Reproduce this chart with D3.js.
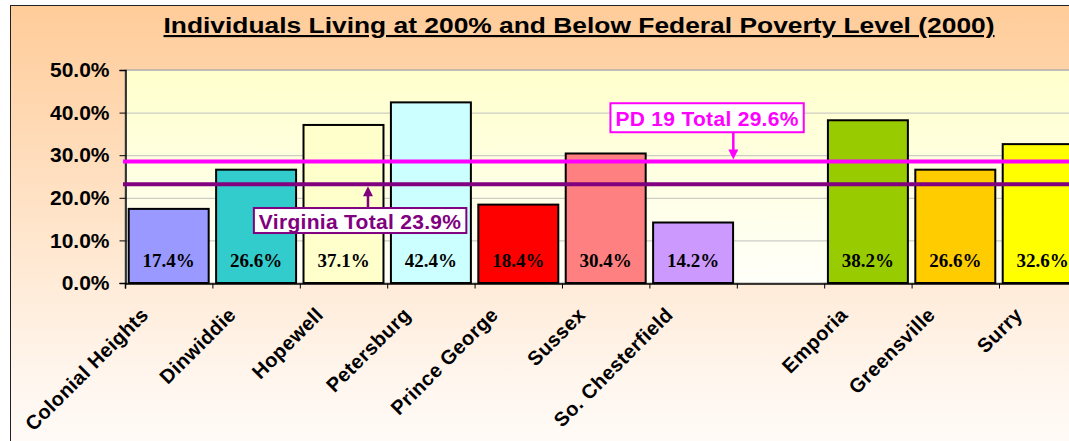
<!DOCTYPE html>
<html>
<head>
<meta charset="utf-8">
<script src="https://cdn.jsdelivr.net/npm/d3@7"></script>
<style>
  body { margin: 0; background: #fff; }
  svg { display: block; }
</style>
</head>
<body>
<script>
//data
var categories = ["Colonial Heights", "Dinwiddie", "Hopewell", "Petersburg", "Prince George",
                  "Sussex", "So. Chesterfield", "", "Emporia", "Greensville", "Surry"];
var values = [17.4, 26.6, 37.1, 42.4, 18.4, 30.4, 14.2, null, 38.2, 26.6, 32.6];
var barColors = ["#9999FF", "#33CCCC", "#FFFFCC", "#CCFFFF", "#FF0000",
                 "#FF8080", "#CC99FF", "none", "#99CC00", "#FFCC00", "#FFFF00"];
var yTicks = [0, 10, 20, 30, 40, 50];

// reference lines (position as drawn in the picture) and their callouts
var refNames = ["PD 19 Total 29.6%", "Virginia Total 23.9%"];
var refValues = [28.5, 23.2];
var refColors = ["#FF00FF", "#800080"];

//positioning/sizing
var svg_dx = 1069,
    svg_dy = 441,
    margin = {top: 70, left: 125},
    plot_bottom = 283,
    step = 87.4,
    plot_right = margin.left + step * categories.length;

var x = d3.scaleBand()
          .domain(d3.range(categories.length))
          .range([margin.left, plot_right])
          .paddingInner(0.085)
          .paddingOuter(0.0425);

var y = d3.scaleLinear().domain([0, 50]).range([plot_bottom, margin.top]);

// continuous index scale for placing callouts between categories
var xi = d3.scaleLinear().domain([0, categories.length]).range([margin.left, plot_right]);

var svg = d3.select("body").append("svg")
            .attr("width", svg_dx)
            .attr("height", svg_dy);

var defs = svg.append("defs");
var bgGrad = defs.append("linearGradient").attr("id", "bg").attr("x1", 0).attr("y1", 0).attr("x2", 0).attr("y2", 1);
bgGrad.append("stop").attr("offset", "0%").attr("stop-color", "#FFCC99");
bgGrad.append("stop").attr("offset", "75%").attr("stop-color", "#FFF6EE");
bgGrad.append("stop").attr("offset", "100%").attr("stop-color", "#FFFFFF");

var plotGrad = defs.append("linearGradient").attr("id", "plotbg").attr("x1", 0).attr("y1", 0).attr("x2", 0).attr("y2", 1);
plotGrad.append("stop").attr("offset", "0%").attr("stop-color", "#FFFFCC");
plotGrad.append("stop").attr("offset", "100%").attr("stop-color", "#FFFFFA");

// chart frame
svg.append("rect")
   .attr("x", 10.5).attr("y", 5.5)
   .attr("width", 1200).attr("height", 500)
   .attr("fill", "url(#bg)")
   .attr("stroke", "#222")
   .attr("stroke-width", 1);

// title (glyphs stretched like the original rendering)
svg.append("text")
   .attr("x", 579)
   .attr("y", 33)
   .attr("text-anchor", "middle")
   .attr("font-family", "Liberation Sans, Arial, sans-serif")
   .attr("font-weight", "bold")
   .attr("font-size", 21.5)
   .attr("textLength", 831)
   .attr("lengthAdjust", "spacingAndGlyphs")
   .attr("text-decoration", "underline")
   .attr("fill", "#000")
   .text("Individuals Living at 200% and Below Federal Poverty Level (2000)");

// plot area
svg.append("rect")
   .attr("x", margin.left).attr("y", margin.top)
   .attr("width", plot_right - margin.left)
   .attr("height", plot_bottom - margin.top)
   .attr("fill", "url(#plotbg)")
   .attr("stroke", "#999")
   .attr("stroke-width", 1);

// gridlines
svg.append("g")
   .selectAll("line")
   .data(yTicks.slice(1))
   .enter()
   .append("line")
   .attr("x1", margin.left).attr("x2", plot_right)
   .attr("y1", d => y(d) + 0.5).attr("y2", d => y(d) + 0.5)
   .attr("stroke", "#C0C0C0")
   .attr("stroke-width", 1);

// y axis
var axis_y = d3.axisLeft(y)
               .tickValues(yTicks)
               .tickSize(6)
               .tickPadding(10)
               .tickFormat(d => d.toFixed(1) + "%");

var gy = svg.append("g")
   .attr("id", "axis_y")
   .attr("transform", "translate(" + (margin.left + 0.5) + ",0)")
   .call(axis_y);
gy.select(".domain").attr("stroke", "#000").attr("stroke-width", 1.5);
gy.selectAll(".tick line").attr("stroke", "#000");
gy.selectAll(".tick text")
  .attr("font-family", "Liberation Sans, Arial, sans-serif")
  .attr("font-weight", "bold")
  .attr("font-size", 21)
  .attr("fill", "#000");

// bars
var barData = values.map((v, i) => ({i: i, v: v, c: barColors[i]})).filter(d => d.v != null);

svg.append("g")
   .selectAll("rect")
   .data(barData)
   .enter()
   .append("rect")
   .attr("x", d => x(d.i))
   .attr("y", d => y(d.v))
   .attr("width", x.bandwidth())
   .attr("height", d => y(0) - y(d.v))
   .attr("fill", d => d.c)
   .attr("stroke", "#000")
   .attr("stroke-width", 2);

// value labels inside bars
svg.append("g")
   .selectAll("text")
   .data(barData)
   .enter()
   .append("text")
   .attr("x", d => x(d.i) + x.bandwidth() / 2)
   .attr("y", y(0) - 16)
   .attr("text-anchor", "middle")
   .attr("font-family", "Liberation Serif, Times New Roman, serif")
   .attr("font-weight", "bold")
   .attr("font-size", 19)
   .attr("fill", "#000")
   .text(d => d.v.toFixed(1) + "%");

// x axis
var axis_x = d3.axisBottom(xi)
               .tickValues(d3.range(categories.length + 1))
               .tickSize(5)
               .tickFormat("");

var gx = svg.append("g")
   .attr("id", "axis_x")
   .attr("transform", "translate(0," + (plot_bottom + 0.5) + ")")
   .call(axis_x);
gx.select(".domain").attr("stroke", "#000").attr("stroke-width", 1.5);
gx.selectAll(".tick line").attr("stroke", "#000");

// rotated category labels
svg.append("g")
   .selectAll("text")
   .data(categories)
   .enter()
   .append("text")
   .attr("transform", (d, i) => "translate(" + (x(i) + x.bandwidth() / 2 - 19) + "," + 316 + ") rotate(-45)")
   .attr("text-anchor", "end")
   .attr("font-family", "Liberation Sans, Arial, sans-serif")
   .attr("font-weight", "bold")
   .attr("font-size", 20)
   .attr("letter-spacing", 0.4)
   .attr("fill", "#000")
   .text(d => d);

// reference lines
svg.append("g")
   .selectAll("line")
   .data(refValues)
   .enter()
   .append("line")
   .attr("x1", margin.left - 2).attr("x2", svg_dx)
   .attr("y1", d => y(d)).attr("y2", d => y(d))
   .attr("stroke", (d, i) => refColors[i])
   .attr("stroke-width", 4);

// callouts: box center (index units), box top (value units), arrow x (index units)
var calloutCx = [6.66, 2.69],
    calloutTop = [42.2, 17.6],
    calloutPad = [4, 2],
    arrowX = [6.96, 2.78];

refNames.forEach(function(name, i) {
    var g = svg.append("g");
    var top = y(calloutTop[i]);
    var txt = g.append("text")
               .attr("x", xi(calloutCx[i]))
               .attr("y", top + calloutPad[i] + 19)
               .attr("text-anchor", "middle")
               .attr("font-family", "Liberation Sans, Arial, sans-serif")
               .attr("font-weight", "bold")
               .attr("font-size", 21)
               .attr("letter-spacing", 0.3)
               .attr("fill", refColors[i])
               .text(name);
    var bb = txt.node().getBBox();
    var h = 2 * calloutPad[i] + 21;
    g.insert("rect", "text")
     .attr("x", bb.x - 5).attr("y", top)
     .attr("width", bb.width + 10).attr("height", h)
     .attr("fill", "#fff")
     .attr("stroke", refColors[i])
     .attr("stroke-width", 2);

    var ax = xi(arrowX[i]),
        lineY = y(refValues[i]),
        down = lineY > top;
    var start = down ? top + h : top,
        tip = down ? lineY - 2 : lineY + 2,
        dir = down ? 1 : -1;
    g.append("line")
     .attr("x1", ax).attr("x2", ax)
     .attr("y1", start).attr("y2", tip - dir * 8)
     .attr("stroke", refColors[i])
     .attr("stroke-width", 2.5);
    g.append("path")
     .attr("d", "M" + (ax - 5) + "," + (tip - dir * 10) + "L" + (ax + 5) + "," + (tip - dir * 10) + "L" + ax + "," + tip + "Z")
     .attr("fill", refColors[i]);
});
</script>
</body>
</html>
